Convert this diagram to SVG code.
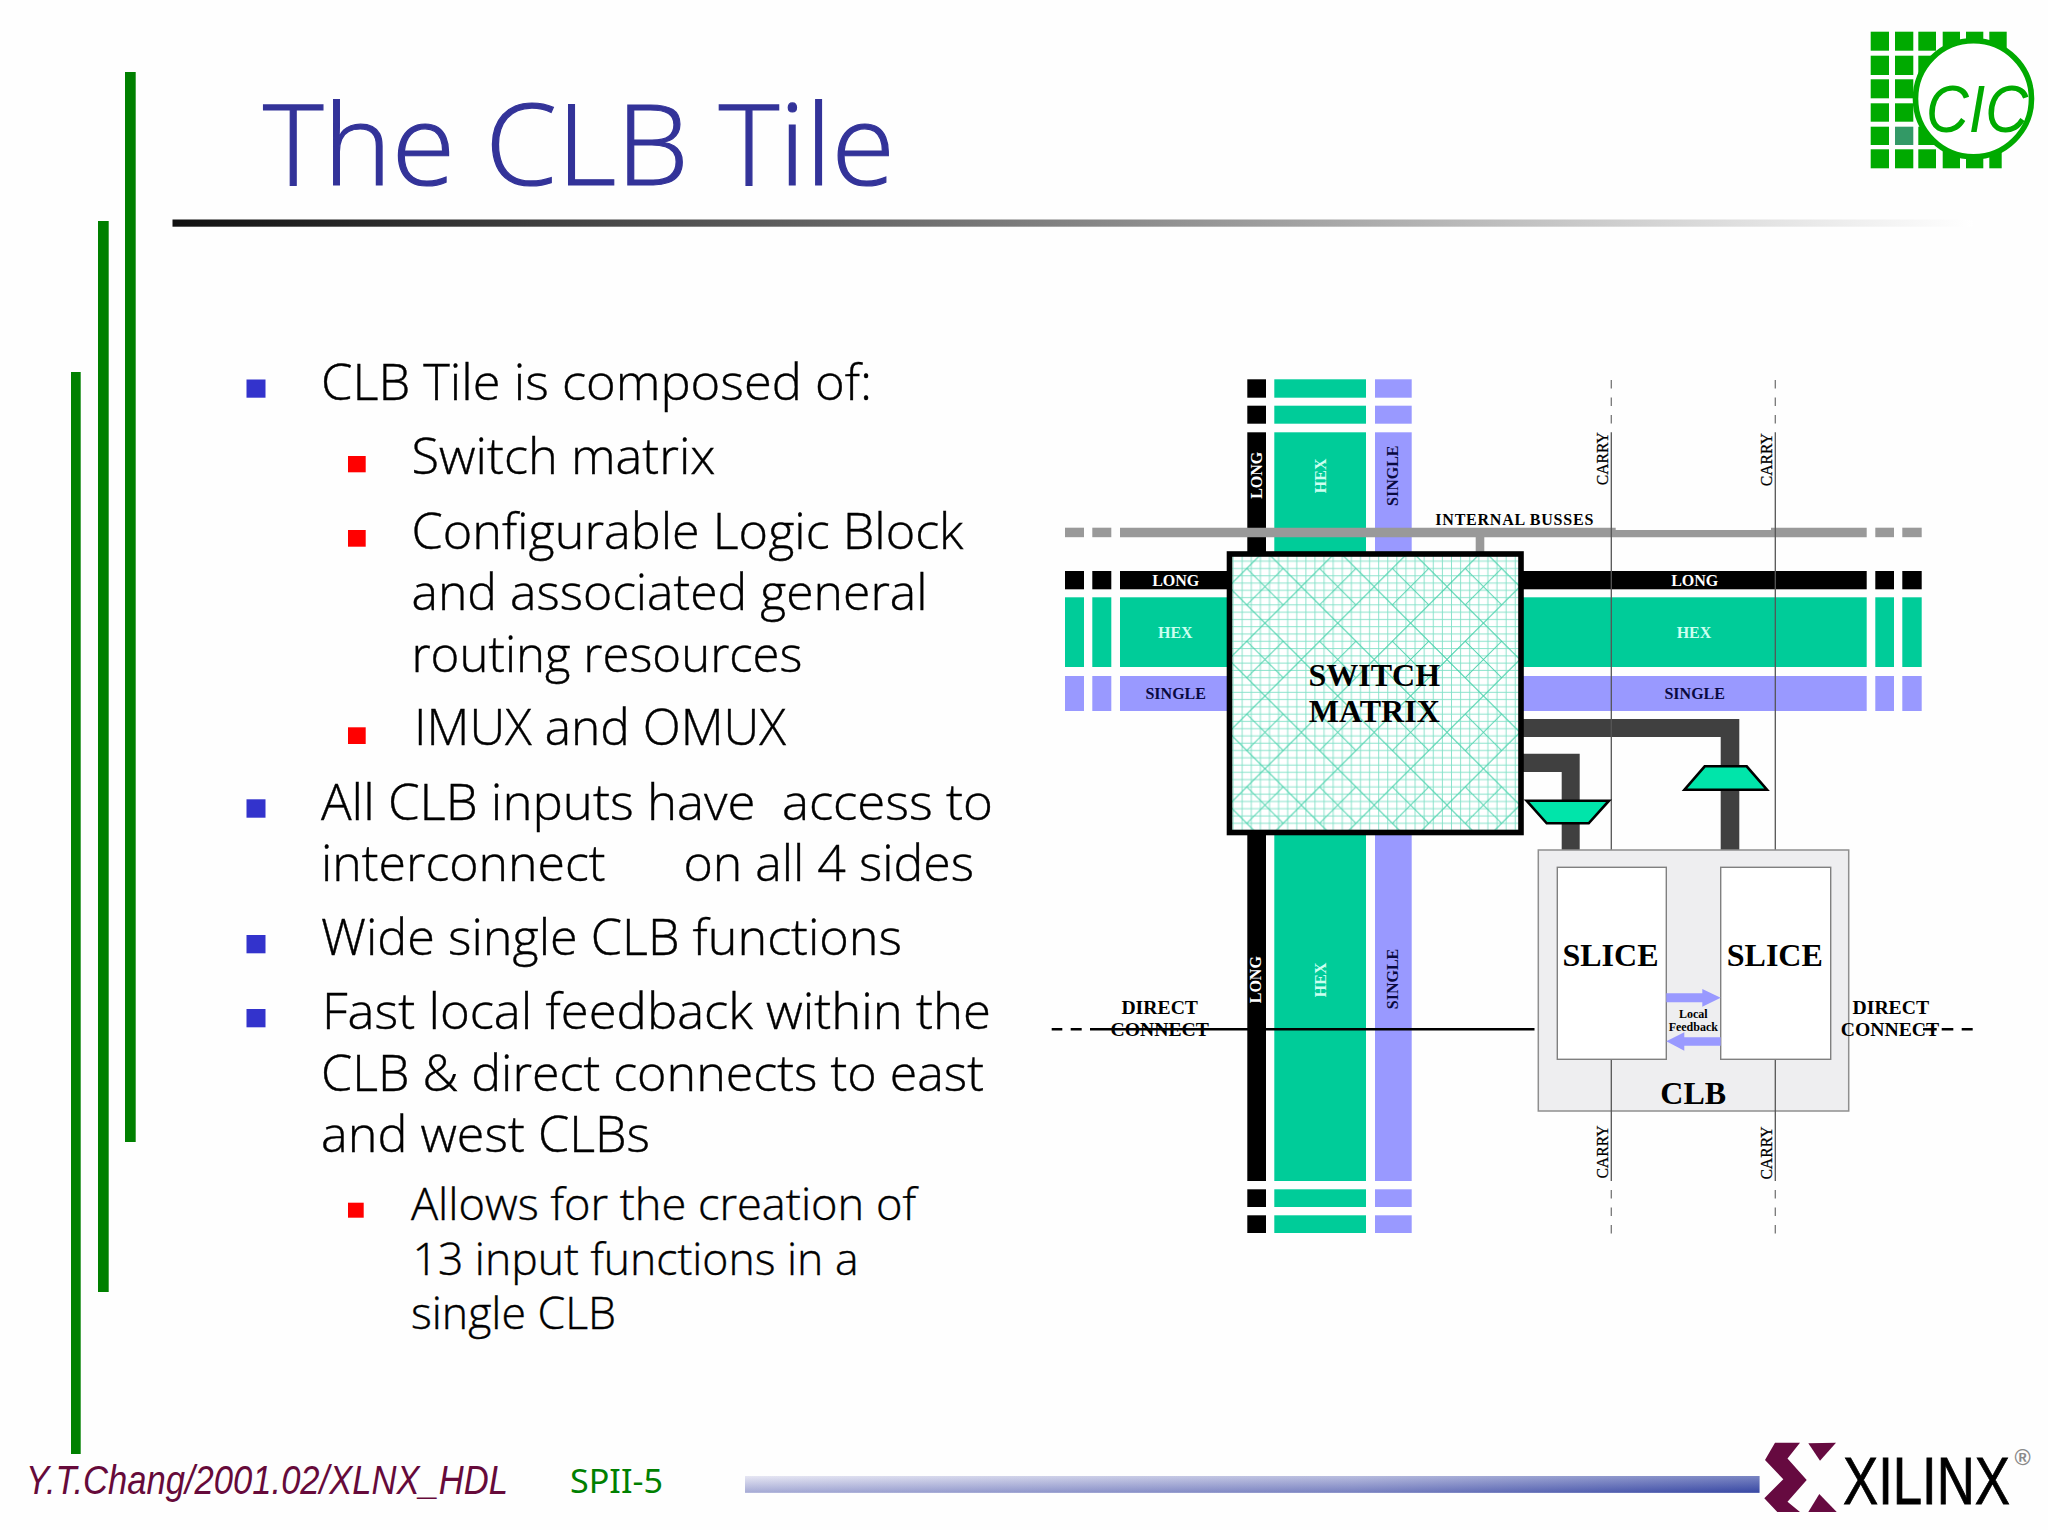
<svg xmlns="http://www.w3.org/2000/svg" width="2048" height="1530" viewBox="0 0 2048 1530">
<style>
.bar{fill:#008000}
.ttl{font-family:"Open Sans","Noto Sans",sans-serif;font-weight:300;font-size:112px;fill:#333399;stroke:#333399;stroke-width:1.2}
.b{font-family:"Open Sans","Noto Sans",sans-serif;font-weight:300;font-size:49px;fill:#000;white-space:pre;stroke:#000;stroke-width:.4}
.s{font-size:44px}
.bb{fill:#3333cc}
.rb{fill:#ff0000}
.k{fill:#000}
.h{fill:#00cc99}
.v{fill:#9999ff}
.g{fill:#999999}
.d{fill:#404040}
.t{font-family:"Liberation Serif","Times New Roman",serif;font-weight:700;text-anchor:middle}
.t16{font-size:16px}
.t20{font-size:19.7px;fill:#000}
.t31{font-size:32px;fill:#000}
.wl{fill:#fff}
.wh{fill:#ccfff0}
.wn{fill:#0a0a40}
.cy{font-family:"Liberation Serif","Times New Roman",serif;font-size:15.7px;text-anchor:middle;fill:#000;stroke:#000;stroke-width:.25}
.cl{stroke:#555;stroke-width:1.3;fill:none}
.cd{stroke:#777;stroke-width:1.3;fill:none;stroke-dasharray:8.5 9}
.dc{stroke:#000;stroke-width:2.4;fill:none}
.mux{fill:#00e5aa;stroke:#000;stroke-width:2.6;stroke-linejoin:miter}
.sl{fill:#fff;stroke:#808080;stroke-width:1.4}
.cic{fill:#00aa00}
</style>
<defs>
<linearGradient id="rule" x1="0" x2="1" y1="0" y2="0"><stop offset="0" stop-color="#111"/><stop offset=".45" stop-color="#777"/><stop offset="1" stop-color="#fff"/></linearGradient>
<linearGradient id="foot" x1="0" x2="1" y1="0" y2="0"><stop offset="0" stop-color="#dcdcee"/><stop offset=".6" stop-color="#9aa0d0"/><stop offset="1" stop-color="#4050a8"/></linearGradient>
<linearGradient id="footv" x1="0" x2="0" y1="0" y2="1"><stop offset="0" stop-color="#fff" stop-opacity=".3"/><stop offset="1" stop-color="#223399" stop-opacity=".3"/></linearGradient>
<pattern id="mesh" patternUnits="userSpaceOnUse" x="1228.6" y="550.3" width="72.8" height="72.8">
<rect width="72.8" height="72.8" fill="#fff"/>
<path d="M4.5 0V72.8M13.6 0V72.8M22.7 0V72.8M31.8 0V72.8M40.9 0V72.8M50 0V72.8M59.1 0V72.8M68.2 0V72.8M0 3.6H72.8M0 10.9H72.8M0 18.2H72.8M0 25.5H72.8M0 32.8H72.8M0 40H72.8M0 47.3H72.8M0 54.6H72.8M0 61.9H72.8M0 69.2H72.8" stroke="#80e0c6" stroke-width=".9" fill="none"/>
<path d="M0 36.4L36.4 0L72.8 36.4L36.4 72.8ZM18.2 18.2L54.6 54.6M54.6 18.2L18.2 54.6" stroke="#3ccfa6" stroke-width="1" fill="none"/>
</pattern>
</defs>
<rect width="2048" height="1530" fill="#fefefe"/>

<g id="slide-frame">
<rect class="bar" x="71" y="372" width="9.7" height="1082"/>
<rect class="bar" x="98" y="221" width="10.7" height="1071"/>
<rect class="bar" x="125" y="72" width="10.7" height="1070"/>
<rect x="172.5" y="219.5" width="1800" height="7.2" fill="url(#rule)"/>
<rect x="745" y="1476" width="1014.5" height="16.8" fill="url(#foot)"/>
<rect x="745" y="1476" width="1014.5" height="16.8" fill="url(#footv)"/>
</g>

<g id="title"><text class="ttl" x="263" y="185" textLength="632" lengthAdjust="spacingAndGlyphs">The CLB Tile</text></g>

<g id="bullets">
<rect class="bb" x="246.5" y="379.5" width="19" height="18.2"/>
<text class="b" x="321" y="400" textLength="551" lengthAdjust="spacingAndGlyphs">CLB Tile is composed of:</text>
<rect class="rb" x="348" y="456" width="17.7" height="16.3"/>
<text class="b" x="411.5" y="474.3" textLength="304" lengthAdjust="spacingAndGlyphs">Switch matrix</text>
<rect class="rb" x="348" y="530" width="17.7" height="16.7"/>
<text class="b" x="411.5" y="548.7" textLength="552" lengthAdjust="spacingAndGlyphs">Configurable Logic Block</text>
<text class="b" x="411.5" y="610" textLength="516" lengthAdjust="spacingAndGlyphs">and associated general</text>
<text class="b" x="411.5" y="671.7" textLength="391" lengthAdjust="spacingAndGlyphs">routing resources</text>
<rect class="rb" x="348" y="727.3" width="17.7" height="16.7"/>
<text class="b" x="414" y="745" textLength="372" lengthAdjust="spacingAndGlyphs">IMUX and OMUX</text>
<rect class="bb" x="246.5" y="799.3" width="19" height="18.4"/>
<text class="b" x="321" y="820" textLength="672" lengthAdjust="spacingAndGlyphs">All CLB inputs have  access to</text>
<text class="b" x="321" y="881" textLength="653" lengthAdjust="spacingAndGlyphs">interconnect      on all 4 sides</text>
<rect class="bb" x="246.5" y="935" width="19" height="18.3"/>
<text class="b" x="321" y="955" textLength="581" lengthAdjust="spacingAndGlyphs">Wide single CLB functions</text>
<rect class="bb" x="246.5" y="1009" width="19" height="18.3"/>
<text class="b" x="322" y="1029" textLength="669" lengthAdjust="spacingAndGlyphs">Fast local feedback within the</text>
<text class="b" x="321" y="1090.7" textLength="663" lengthAdjust="spacingAndGlyphs">CLB &amp; direct connects to east</text>
<text class="b" x="321" y="1152.3" textLength="329" lengthAdjust="spacingAndGlyphs">and west CLBs</text>
<rect class="rb" x="348" y="1202.7" width="15.7" height="15"/>
<text class="b s" x="411" y="1220" textLength="505" lengthAdjust="spacingAndGlyphs">Allows for the creation of</text>
<text class="b s" x="412.5" y="1275" textLength="446" lengthAdjust="spacingAndGlyphs">13 input functions in a</text>
<text class="b s" x="411" y="1329.3" textLength="205" lengthAdjust="spacingAndGlyphs">single CLB</text>
</g>

<g id="footer">
<text x="26" y="1494" font-family="'Liberation Sans',Arial,sans-serif" font-style="italic" font-size="40" fill="#660a3a" textLength="482" lengthAdjust="spacingAndGlyphs">Y.T.Chang/2001.02/XLNX_HDL</text>
<text x="570" y="1493.3" font-family="'Noto Sans','Open Sans',sans-serif" font-size="33" fill="#008000" textLength="93" lengthAdjust="spacingAndGlyphs">SPII-5</text>
</g>

<g id="cic-logo">
<g class="cic">
<rect x="1870.7" y="31.7" width="18.3" height="19"/><rect x="1895" y="31.7" width="18.3" height="19"/><rect x="1918.3" y="31.7" width="17.7" height="19"/><rect x="1942.7" y="31.7" width="17.3" height="19"/><rect x="1966" y="31.7" width="17.3" height="19"/><rect x="1989.3" y="31.7" width="17.4" height="19"/>
<rect x="1870.7" y="55.7" width="18.3" height="19.3"/><rect x="1895" y="55.7" width="18.3" height="19.3"/><rect x="1918.3" y="55.7" width="17.7" height="19.3"/>
<rect x="1870.7" y="79.3" width="18.3" height="19"/><rect x="1895" y="79.3" width="18.3" height="19"/><rect x="1918.3" y="79.3" width="17.7" height="19"/>
<rect x="1870.7" y="103.3" width="18.3" height="18.4"/><rect x="1895" y="103.3" width="18.3" height="18.4"/><rect x="1918.3" y="103.3" width="17.7" height="18.4"/>
<rect x="1870.7" y="126.7" width="18.3" height="18.3"/><rect x="1918.3" y="126.7" width="17.7" height="18.3"/>
<rect x="1870.7" y="149.3" width="18.3" height="19"/><rect x="1895" y="149.3" width="18.3" height="19"/><rect x="1918.3" y="149.3" width="17.7" height="19"/><rect x="1942.7" y="149.3" width="17.3" height="19"/><rect x="1966" y="149.3" width="17.3" height="19"/><rect x="1989.3" y="149.3" width="12.4" height="19"/>
</g>
<rect x="1895" y="126.7" width="18.3" height="18.3" fill="#339966"/>
<circle cx="1973.5" cy="98.7" r="58" fill="#fff" stroke="#00aa00" stroke-width="5.6"/>
<text x="1926" y="131.5" font-family="'Liberation Sans',Arial,sans-serif" font-style="italic" font-size="66" fill="#00aa00" textLength="102" lengthAdjust="spacingAndGlyphs">CIC</text>
</g>

<g id="xilinx-logo">
<path d="M1775 1442.7H1800L1787.5 1458.5L1806.7 1480L1787.5 1501.7L1800 1512H1777.3L1764.3 1498.3L1783.3 1479.3L1765 1460Z" fill="#660a40"/>
<path d="M1808.3 1443.3L1836 1442.7L1820 1460.7Z" fill="#660a40"/>
<path d="M1819.3 1494L1836.7 1512H1808.3Z" fill="#660a40"/>
<text x="1843" y="1504" font-family="'Liberation Sans',Arial,sans-serif" font-size="66" fill="#000" stroke="#000" stroke-width=".8" textLength="167" lengthAdjust="spacingAndGlyphs">XILINX</text>
<text x="2014.5" y="1465" font-family="'Liberation Sans',Arial,sans-serif" font-weight="700" font-size="22" fill="#8a8a8a">®</text>
</g>

<g id="connectors">
<g id="wires-vertical">
<rect class="k" x="1247.3" y="379.3" width="18.7" height="18.4"/><rect class="k" x="1247.3" y="405.7" width="18.7" height="18"/><rect class="k" x="1247.3" y="432.3" width="18.7" height="120"/>
<rect class="h" x="1274.3" y="379.3" width="91.7" height="18.4"/><rect class="h" x="1274.3" y="405.7" width="91.7" height="18"/><rect class="h" x="1274.3" y="432.3" width="91.7" height="120"/>
<rect class="v" x="1375" y="379.3" width="36.7" height="18.4"/><rect class="v" x="1375" y="405.7" width="36.7" height="18"/><rect class="v" x="1375" y="432.3" width="36.7" height="120"/>
<rect class="k" x="1247.3" y="834" width="18.7" height="347"/><rect class="k" x="1247.3" y="1189.3" width="18.7" height="17.7"/><rect class="k" x="1247.3" y="1215.3" width="18.7" height="17.7"/>
<rect class="h" x="1274.3" y="834" width="91.7" height="347"/><rect class="h" x="1274.3" y="1189.3" width="91.7" height="17.7"/><rect class="h" x="1274.3" y="1215.3" width="91.7" height="17.7"/>
<rect class="v" x="1375" y="834" width="36.7" height="347"/><rect class="v" x="1375" y="1189.3" width="36.7" height="17.7"/><rect class="v" x="1375" y="1215.3" width="36.7" height="17.7"/>
</g>
<g id="internal-busses">
<rect class="g" x="1065" y="527.7" width="19" height="9.5"/><rect class="g" x="1092.3" y="527.7" width="19" height="9.5"/>
<path class="g" d="M1120 527.7H1615.7V530H1771V527.7H1866.7V537.2H1120Z"/>
<rect class="g" x="1875.3" y="527.7" width="18.7" height="9.5"/><rect class="g" x="1902.3" y="527.7" width="19.4" height="9.5"/>
<rect class="g" x="1475.7" y="537" width="8.6" height="16"/>
</g>
<g id="wires-horizontal">
<rect class="k" x="1065" y="571" width="19" height="18.3"/><rect class="k" x="1092.3" y="571" width="19" height="18.3"/><rect class="k" x="1120" y="571" width="108" height="18.3"/>
<rect class="h" x="1065" y="597.3" width="19" height="69.7"/><rect class="h" x="1092.3" y="597.3" width="19" height="69.7"/><rect class="h" x="1120" y="597.3" width="108" height="69.7"/>
<rect class="v" x="1065" y="676" width="19" height="35"/><rect class="v" x="1092.3" y="676" width="19" height="35"/><rect class="v" x="1120" y="676" width="108" height="35"/>
<rect class="k" x="1522" y="571" width="344.7" height="18.3"/><rect class="k" x="1875.3" y="571" width="18.7" height="18.3"/><rect class="k" x="1902.3" y="571" width="19.4" height="18.3"/>
<rect class="h" x="1522" y="597.3" width="344.7" height="69.7"/><rect class="h" x="1875.3" y="597.3" width="18.7" height="69.7"/><rect class="h" x="1902.3" y="597.3" width="19.4" height="69.7"/>
<rect class="v" x="1522" y="676" width="344.7" height="35"/><rect class="v" x="1875.3" y="676" width="18.7" height="35"/><rect class="v" x="1902.3" y="676" width="19.4" height="35"/>
</g>
<g id="slice-busses">
<path class="d" d="M1522 719H1739.3V850H1720.7V737H1522Z"/>
<path class="d" d="M1522 753.7H1579.7V850H1561.7V772H1522Z"/>
</g>
<g id="carry-lines">
<path class="cd" d="M1611.3 380V424M1775.3 380V424M1611.3 1190V1234M1775.3 1190V1234"/>
<path class="cl" d="M1611.3 432.3V850M1775.3 432.3V850"/>
</g>
</g>

<g id="wire-labels">
<text class="t t16 wl" x="1175.7" y="585.7">LONG</text>
<text class="t t16 wh" x="1175.3" y="638">HEX</text>
<text class="t t16 wn" x="1175.7" y="698.7">SINGLE</text>
<text class="t t16 wl" x="1694.7" y="585.7">LONG</text>
<text class="t t16 wh" x="1694" y="638">HEX</text>
<text class="t t16 wn" x="1694.7" y="698.7">SINGLE</text>
<text class="t t16 wl" transform="translate(1261.7 475.3) rotate(-90)">LONG</text>
<text class="t t16 wh" transform="translate(1325.7 475.8) rotate(-90)">HEX</text>
<text class="t t16 wn" transform="translate(1398 475.7) rotate(-90)">SINGLE</text>
<text class="t t16 wl" transform="translate(1261 979.7) rotate(-90)">LONG</text>
<text class="t t16 wh" transform="translate(1325.7 979.8) rotate(-90)">HEX</text>
<text class="t t16 wn" transform="translate(1398 979) rotate(-90)">SINGLE</text>
<text class="t t16" x="1514.3" y="525.3" fill="#000" textLength="158" lengthAdjust="spacing">INTERNAL BUSSES</text>
<text class="cy" transform="translate(1607.7 458.7) rotate(-90)">CARRY</text>
<text class="cy" transform="translate(1771.7 459.7) rotate(-90)">CARRY</text>
<text class="cy" transform="translate(1607.7 1152) rotate(-90)">CARRY</text>
<text class="cy" transform="translate(1771.7 1153) rotate(-90)">CARRY</text>
</g>

<g id="switch-matrix">
<rect x="1229.5" y="554" width="291.5" height="278.5" fill="url(#mesh)" stroke="#000" stroke-width="5.6"/>
<text class="t t31" x="1374.3" y="686">SWITCH</text>
<text class="t t31" x="1374.3" y="721.7">MATRIX</text>
</g>

<g id="mux-down"><path class="mux" d="M1526.5 800.7H1609L1588.7 823.3H1546.7Z"/></g>
<g id="mux-up"><path class="mux" d="M1684.5 789.7H1767L1746.7 766.3H1704.7Z"/></g>

<g id="clb">
<rect x="1538.3" y="850" width="310.4" height="261" fill="#eeeef0" stroke="#8f8f8f" stroke-width="1.5"/>
<path class="cl" d="M1611.3 1059V1181M1775.3 1059V1181"/>
<text class="t t31" x="1693.2" y="1104.3">CLB</text>
</g>
<g id="slice-left">
<rect class="sl" x="1557.3" y="867.3" width="109" height="192"/>
<text class="t t31" x="1610.5" y="965.7">SLICE</text>
</g>
<g id="slice-right">
<rect class="sl" x="1720.7" y="867.3" width="110" height="192"/>
<text class="t t31" x="1774.8" y="965.7">SLICE</text>
</g>
<g id="local-feedback">
<path class="v" d="M1666.3 993.3H1702.3V989L1720.7 997.7L1702.3 1006.7V1002.3H1666.3Z"/>
<path class="v" d="M1720.7 1037.3H1684.3V1032.3L1666.3 1041.3L1684.3 1050.7V1045.7H1720.7Z"/>
<text class="t" x="1693.3" y="1017.7" font-size="12" fill="#000">Local</text>
<text class="t" x="1693.3" y="1031" font-size="12" fill="#000">Feedback</text>
</g>

<g id="direct-connect">
<text class="t t20" x="1159.7" y="1014.3">DIRECT</text>
<text class="t t20" x="1159.7" y="1035.7">CONNECT</text>
<text class="t t20" x="1890.8" y="1014.3">DIRECT</text>
<text class="t t20" x="1890" y="1035.7">CONNECT</text>
<path class="dc" d="M1051.7 1029.3H1062.3M1070.7 1029.3H1081.7M1090 1029.3H1534.5M1923 1029.3H1936.7M1941.7 1029.3H1953.3M1961.7 1029.3H1972.7"/>
</g>
</svg>
